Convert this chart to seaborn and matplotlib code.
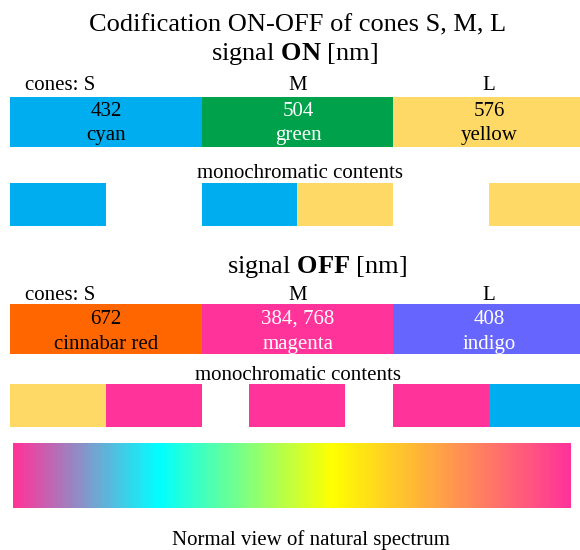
import numpy as np
import pandas as pd
import matplotlib
matplotlib.use("Agg")
import matplotlib.pyplot as plt
import seaborn as sns
from matplotlib.colors import LinearSegmentedColormap

# ---------------- data ----------------
cones = ["S", "M", "L"]
on_nm = ["432", "504", "576"]
on_names = ["cyan", "green", "yellow"]
on_colors = ["#00AEEF", "#00A14B", "#FFD966"]
on_text_colors = ["black", "white", "black"]

off_nm = ["672", "384, 768", "408"]
off_names = ["cinnabar red", "magenta", "indigo"]
off_colors = ["#FF6600", "#FF3399", "#6666FF"]
off_text_colors = ["black", "white", "white"]

# monochromatic contents: (cone index, half-slot offset, colour)
on_mono_cone = [0, 1, 1, 2]
on_mono_slot = [0, 0, 1, 1]
on_mono_color = ["#00AEEF", "#00AEEF", "#FFD966", "#FFD966"]

off_mono_cone = [0, 0, 1, 2, 2]
off_mono_slot = [0, 1, 0.5, 0, 1]
off_mono_color = ["#FFD966", "#FF3399", "#FF3399", "#FF3399", "#00AEEF"]

# spectrum colour stops (fraction along bar, colour)
spec_stops = [0.0, 0.26, 0.572, 1.0]
spec_colors = ["#FF3399", "#00FFFF", "#FFFF00", "#FF3399"]
spec_steps = 200

# ---------------- figure ----------------
sns.set_theme(style="white")
plt.rcParams["font.family"] = ["Liberation Serif", "DejaVu Serif"]
plt.rcParams["mathtext.fontset"] = "custom"
plt.rcParams["mathtext.rm"] = "Liberation Serif"
plt.rcParams["mathtext.bf"] = "Liberation Serif:bold"
W, H = 580, 550
fig = plt.figure(figsize=(W / 100, H / 100), dpi=100)

BIG = 19
SMALL = 15
X0, X1 = 10, 584.5


def axes_px(x0, y0, x1, y1):
    return fig.add_axes([x0 / W, 1 - y1 / H, (x1 - x0) / W, (y1 - y0) / H])


def txt(x, y, s, size=SMALL, color="black", ha="center", **kw):
    fig.text(x / W, 1 - y / H, s, fontsize=size, color=color, ha=ha,
             va="baseline", **kw)


def cone_bar(y0, y1, colors):
    ax = axes_px(X0, y0, X1, y1)
    df = pd.DataFrame({"cone": cones, "v": [1, 1, 1]})
    sns.barplot(data=df, x="cone", y="v", hue="cone", palette=colors,
                width=1.0, legend=False, ax=ax, saturation=1, linewidth=0)
    ax.set_xlim(-0.5, 2.5)
    ax.set_ylim(0, 1)
    ax.axis("off")
    return ax


def mono_bar(y0, y1, cone_idx, slots, colors):
    ax = axes_px(X0, y0, X1, y1)
    lefts = [c - 0.5 + s * 0.5 for c, s in zip(cone_idx, slots)]
    ax.bar(lefts, [1] * len(lefts), width=0.5, align="edge", color=colors,
           linewidth=0)
    ax.set_xlim(-0.5, 2.5)
    ax.set_ylim(0, 1)
    ax.axis("off")


# titles
txt(298, 31.5, "Codification ON-OFF of cones S, M, L", size=BIG)
txt(294, 60, r"signal $\mathbf{ON}$ [nm]", size=BIG)

# ON section
seg_cx = [106, 298, 489]
cone_bar(97, 147, on_colors)
txt(25, 90.5, "cones: S", ha="left")
txt(seg_cx[1], 90.5, "M")
txt(seg_cx[2], 90.5, "L")
for cx, n, nm, tc in zip(seg_cx, on_nm, on_names, on_text_colors):
    txt(cx, 116.5, n, color=tc)
    txt(cx, 140.5, nm, color=tc)

txt(300, 178, "monochromatic contents")
mono_bar(183, 226, on_mono_cone, on_mono_slot, on_mono_color)

# OFF section
txt(317, 272.5, r"signal $\mathbf{OFF}$ [nm]", size=BIG)
cone_bar(304, 354, off_colors)
txt(25, 300, "cones: S", ha="left")
txt(seg_cx[1], 300, "M")
txt(seg_cx[2], 300, "L")
for cx, n, nm, tc in zip(seg_cx, off_nm, off_names, off_text_colors):
    txt(cx, 324, n, color=tc)
    txt(cx, 349, nm, color=tc)

txt(298, 380, "monochromatic contents")
mono_bar(384, 427, off_mono_cone, off_mono_slot, off_mono_color)

# spectrum
cmap = LinearSegmentedColormap.from_list("spec", list(zip(spec_stops, spec_colors)))
axs = axes_px(13, 443, 571, 508)
spec = pd.DataFrame([np.linspace(0, 1, spec_steps)])
sns.heatmap(spec, cmap=cmap, vmin=0, vmax=1, cbar=False, ax=axs,
            xticklabels=False, yticklabels=False)
axs.axis("off")

txt(311, 545, "Normal view of natural spectrum")

fig.savefig("out.png", dpi=100)
